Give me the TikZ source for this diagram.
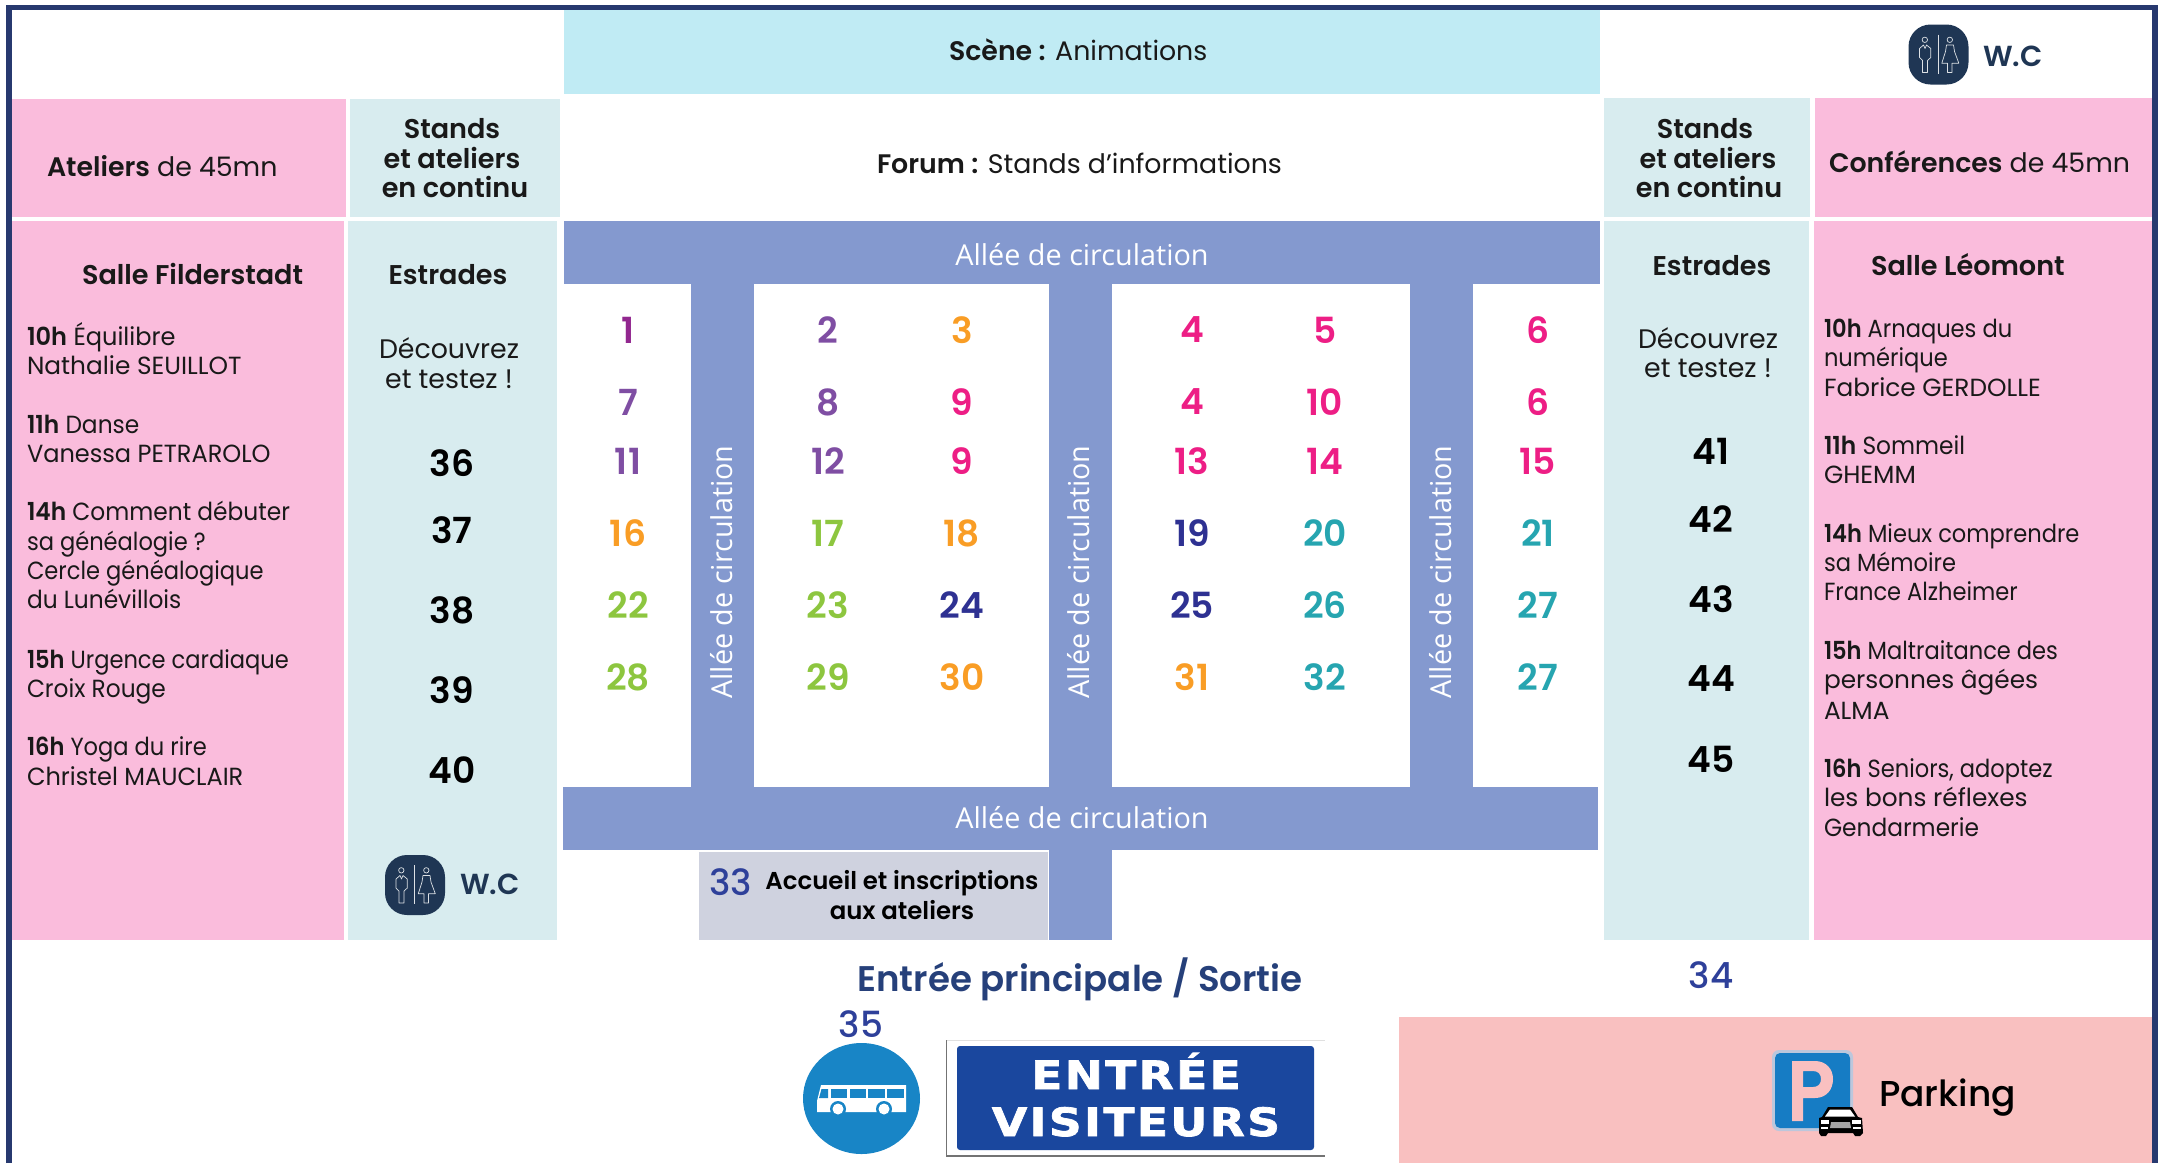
\documentclass[tikz,border=0pt]{standalone}
\usepackage{fontspec}
\setmainfont{Poppins}[BoldFont={Poppins SemiBold}]
\newfontfamily\fA{Poppins}[BoldFont={Poppins SemiBold},FakeStretch=0.97]
\newfontfamily\fB{Poppins}[BoldFont={Poppins SemiBold},FakeStretch=0.94]
\newfontfamily\fC{Poppins}[BoldFont={Poppins SemiBold},FakeStretch=0.91]
\newfontfamily\medfont{Poppins Medium}
\newfontfamily\alleefont{Open Sans}
\newfontfamily\signfont{DejaVu Sans Bold}[LetterSpace=6,FakeStretch=1.17,FakeBold=1.8]
\definecolor{framec}{HTML}{27396F}
\definecolor{pinkc}{HTML}{FABCDC}
\definecolor{tealc}{HTML}{D8ECEF}
\definecolor{bluec}{HTML}{8499CF}
\definecolor{scenec}{HTML}{C0EBF4}
\definecolor{parkc}{HTML}{F9C0C0}
\definecolor{greyc}{HTML}{CFD2DF}
\definecolor{wcc}{HTML}{1F3654}
\definecolor{violetc}{HTML}{92278F}
\definecolor{purplec}{HTML}{7F4EA3}
\definecolor{orangec}{HTML}{F99D25}
\definecolor{magentac}{HTML}{ED1E85}
\definecolor{greenc}{HTML}{8DC63F}
\definecolor{navyc}{HTML}{2E3192}
\definecolor{cyanc}{HTML}{26A5B0}
\definecolor{num33}{HTML}{2E409A}
\definecolor{entreec}{HTML}{26407A}
\definecolor{signc}{HTML}{1A479E}
\definecolor{busc}{HTML}{1885C6}
\definecolor{pblue}{HTML}{167CC4}
\tikzset{
  txt/.style={inner sep=0pt,outer sep=0pt,font=\fontsize{12.4}{14}\selectfont,text=black!90},
  lft/.style={txt,anchor=base west},
  lftA/.style={lft,font=\fontsize{12.4}{14}\fA\selectfont},
  lftB/.style={lft,font=\fontsize{12.4}{14}\fB\selectfont},
  lftC/.style={lft,font=\fontsize{12.4}{14}\fC\selectfont},
  ctr/.style={txt,anchor=base},
  disc/.style={txt,anchor=base,font=\fontsize{13.4}{15}\selectfont},
  head/.style={txt,anchor=base,font=\fontsize{13.55}{15}\selectfont},
  zone/.style={txt,anchor=base west,font=\fontsize{13.4}{15}\selectfont},
  num/.style={inner sep=0pt,outer sep=0pt,anchor=center,font=\fontsize{18}{20}\bfseries\selectfont},
  nummed/.style={num,text=num33,font=\fontsize{18}{20}\medfont\selectfont},
  allee/.style={inner sep=0pt,outer sep=0pt,anchor=base,text=white,font=\fontsize{14.4}{16}\alleefont\selectfont},
  signtxt/.style={inner sep=0pt,outer sep=0pt,anchor=base,text=white,font=\fontsize{19.5}{21}\signfont\selectfont},
}
\newcommand{\wcbox}[2]{%
  \begin{scope}[shift={(#1,#2)}]
    \fill[wcc,rounded corners=11pt] (-30,-30) rectangle (30,30);
    \begin{scope}[draw=white!85!wcc,line width=0.35pt,line join=round]
      \draw (-13.7,-14.7) circle[radius=2.7];
      \draw (11.3,-14.7) circle[radius=2.7];
      \draw (-0.3,-20) -- (-0.3,19);
      \draw (-16,18) -- (-16,6) -- (-19,3) -- (-19,-6) -- (-15,-9.5) -- (-13.5,-6) -- (-12,-9.5) -- (-7.7,-6) -- (-7.7,3) -- (-11,6) -- (-11,18) -- cycle;
      \draw (8,-9.5) -- (15,-9.5) -- (16,-3) -- (20.3,8.7) -- (13.5,8.7) -- (13.5,18) -- (9,18) -- (9,8.7) -- (3.3,8.7) -- (7,-3) -- cycle;
    \end{scope}
  \end{scope}}
\begin{document}
\begin{tikzpicture}[x=0.5pt,y=-0.5pt]
\useasboundingbox (0,0) rectangle (2163,1163);
% zones
\fill[scenec] (564,10) rectangle (1600,94);
\fill[pinkc] (12,99) rectangle (346,217);
\fill[tealc] (350,99) rectangle (560,217);
\fill[pinkc] (12,221) rectangle (344,940);
\fill[tealc] (348,221) rectangle (557,940);
\fill[tealc] (1604,98) rectangle (1810,217);
\fill[pinkc] (1815,98) rectangle (2153,217);
\fill[tealc] (1604,221) rectangle (1809,940);
\fill[pinkc] (1814,221) rectangle (2153,940);
\fill[parkc] (1399,1017) rectangle (2153,1163);
% allees
\fill[bluec] (564,221) rectangle (1600,284);
\fill[bluec] (563,787) rectangle (1598,850);
\fill[bluec] (691,284) rectangle (754,787);
\fill[bluec] (1049,284) rectangle (1112,940);
\fill[bluec] (1410,284) rectangle (1473,787);
\fill[greyc] (699,852) rectangle (1048,940);
% frame
\draw[framec,line width=2.6pt,line join=miter] (9,1163) -- (9,7.5) -- (2155,7.5) -- (2155,1163);
% allee labels
\node[allee] (a1) at (1082,265) {Allée de circulation};
\node[allee] (a2) at (1082,828) {Allée de circulation};
\node[allee,rotate=90] (a3) at (732,572) {Allée de circulation};
\node[allee,rotate=90] (a4) at (1089,572) {Allée de circulation};
\node[allee,rotate=90] (a5) at (1451,572) {Allée de circulation};
% headers
\node[zone] (scene) at (949,60) {\textbf{Scène :} Animations};
\node[zone] (atel) at (47,176) {\textbf{Ateliers} de 45mn};
\node[zone] (forum) at (877,173) {\textbf{Forum :} Stands d’informations};
\node[zone] (conf) at (1829,172) {\textbf{Conférences} de 45mn};
\node[head] (sl1) at (452,138) {\textbf{Stands}};
\node[head] (sl2) at (452,168) {\textbf{et ateliers}};
\node[head] (sl3) at (455,197) {\textbf{en continu}};
\node[head] (sr1) at (1705,138) {\textbf{Stands}};
\node[head] (sr2) at (1708,168) {\textbf{et ateliers}};
\node[head] (sr3) at (1709,197) {\textbf{en continu}};
\node[head,anchor=base west] (sf) at (82,284) {\textbf{Salle Filderstadt}};
\node[head] (el) at (448,284) {\textbf{Estrades}};
\node[head,anchor=base west] (slm) at (1871,275) {\textbf{Salle Léomont}};
\node[head] (er) at (1712,275) {\textbf{Estrades}};
\node[disc] (dl1) at (449,358) {Découvrez};
\node[disc] (dl2) at (449,388) {et testez !};
\node[disc] (dr1) at (1708,348) {Découvrez};
\node[disc] (dr2) at (1708,377) {et testez !};
% left programme
\node[lftA] (l1) at (27,345) {\textbf{10h} Équilibre};
\node[lft] (l2) at (27,374) {Nathalie SEUILLOT};
\node[lftB] (l3) at (27,433) {\textbf{11h} Danse};
\node[lftA] (l4) at (27,462) {Vanessa PETRAROLO};
\node[lftB] (l5) at (27,520) {\textbf{14h} Comment débuter};
\node[lftC] (l6) at (27,550) {sa généalogie ?};
\node[lftC] (l7) at (27,579) {Cercle généalogique};
\node[lftB] (l8) at (27,608) {du Lunévillois};
\node[lftC] (l9) at (27,668) {\textbf{15h} Urgence cardiaque};
\node[lftB] (l10) at (27,697) {Croix Rouge};
\node[lftC] (l11) at (27,755) {\textbf{16h} Yoga du rire};
\node[lftA] (l12) at (27,785) {Christel MAUCLAIR};
% right programme
\node[lftC] (r1) at (1824,337) {\textbf{10h} Arnaques du};
\node[lftC] (r2) at (1824,366) {numérique};
\node[lft] (r3) at (1824,396) {Fabrice GERDOLLE};
\node[lftB] (r4) at (1824,454) {\textbf{11h} Sommeil};
\node[lft] (r5) at (1824,483) {GHEMM};
\node[lftC] (r6) at (1824,542) {\textbf{14h} Mieux comprendre};
\node[lftC] (r7) at (1824,571) {sa Mémoire};
\node[lftC] (r8) at (1824,600) {France Alzheimer};
\node[lftC] (r9) at (1824,659) {\textbf{15h} Maltraitance des};
\node[lft] (r10) at (1824,688) {personnes âgées};
\node[lft] (r11) at (1824,719) {ALMA};
\node[lftC] (r12) at (1824,777) {\textbf{16h} Seniors, adoptez};
\node[lft] (r13) at (1824,806) {les bons réflexes};
\node[lftB] (r14) at (1824,836) {Gendarmerie};
% stand numbers
\node[num,text=violetc] (n1) at (628,330) {1};
\node[num,text=purplec] (n2) at (828,330) {2};
\node[num,text=orangec] (n3) at (962,330) {3};
\node[num,text=magentac] (n4) at (1192,330) {4};
\node[num,text=magentac] (n5) at (1325,330) {5};
\node[num,text=magentac] (n6) at (1538,330) {6};
\node[num,text=purplec] (n7) at (628,402) {7};
\node[num,text=purplec] (n8) at (828,402) {8};
\node[num,text=magentac] (n9) at (962,402) {9};
\node[num,text=magentac] (n4b) at (1192,402) {4};
\node[num,text=magentac] (n10) at (1325,402) {10};
\node[num,text=magentac] (n6b) at (1538,402) {6};
\node[num,text=purplec] (n11) at (628,461) {11};
\node[num,text=purplec] (n12) at (828,461) {12};
\node[num,text=magentac] (n9b) at (962,461) {9};
\node[num,text=magentac] (n13) at (1192,461) {13};
\node[num,text=magentac] (n14) at (1325,461) {14};
\node[num,text=magentac] (n15) at (1538,461) {15};
\node[num,text=orangec] (n16) at (628,533) {16};
\node[num,text=greenc] (n17) at (828,533) {17};
\node[num,text=orangec] (n18) at (962,533) {18};
\node[num,text=navyc] (n19) at (1192,533) {19};
\node[num,text=cyanc] (n20) at (1325,533) {20};
\node[num,text=cyanc] (n21) at (1538,533) {21};
\node[num,text=greenc] (n22) at (628,605) {22};
\node[num,text=greenc] (n23) at (828,605) {23};
\node[num,text=navyc] (n24) at (962,605) {24};
\node[num,text=navyc] (n25) at (1192,605) {25};
\node[num,text=cyanc] (n26) at (1325,605) {26};
\node[num,text=cyanc] (n27) at (1538,605) {27};
\node[num,text=greenc] (n28) at (628,677) {28};
\node[num,text=greenc] (n29) at (828,677) {29};
\node[num,text=orangec] (n30) at (962,677) {30};
\node[num,text=orangec] (n31) at (1192,677) {31};
\node[num,text=cyanc] (n32) at (1325,677) {32};
\node[num,text=cyanc] (n27b) at (1538,677) {27};
% estrades numbers
\node[num,text=black] (n36) at (452,463) {36};
\node[num,text=black] (n37) at (452,530) {37};
\node[num,text=black] (n38) at (452,610) {38};
\node[num,text=black] (n39) at (452,690) {39};
\node[num,text=black] (n40) at (452,770) {40};
\node[num,text=black] (n41) at (1711,451) {41};
\node[num,text=black] (n42) at (1711,519) {42};
\node[num,text=black] (n43) at (1711,599) {43};
\node[num,text=black] (n44) at (1711,679) {44};
\node[num,text=black] (n45) at (1711,759) {45};
% accueil
\node[nummed] (n33) at (730.5,882) {33};
\node[ctr,font=\fontsize{12.2}{14}\bfseries\selectfont,text=black] (acc1) at (902,889) {Accueil et inscriptions};
\node[ctr,font=\fontsize{12.2}{14}\bfseries\selectfont,text=black] (acc2) at (902,919) {aux ateliers};
% entree
\node[ctr,font=\fontsize{17.8}{20}\bfseries\selectfont,text=entreec] (ent) at (1080,991) {Entrée principale / Sortie};
\node[nummed] (n34) at (1711,975) {34};
\node[nummed] (n35) at (861,1024) {35};
% WC icons
\wcbox{1938.5}{54.5}
\node[lft,font=\fontsize{14.5}{16}\bfseries\selectfont,text=wcc] (wc1) at (1983,66) {W.C};
\wcbox{415}{885}
\node[lft,font=\fontsize{14.5}{16}\bfseries\selectfont,text=wcc] (wc2) at (460,894) {W.C};
% bus
\fill[busc] (861.5,1098.5) ellipse[x radius=58.5,y radius=55.5];
\fill[white] (821,1085) -- (906,1085) -- (906,1112) -- (817,1112) -- (817,1101) -- cycle;
\fill[busc] (821.5,1089) -- (828,1089) -- (828,1098) -- (819,1098) -- cycle;
\fill[busc] (831,1089) rectangle (847,1098);
\fill[busc] (850,1089) rectangle (866,1098);
\fill[busc] (868,1089) rectangle (885,1098);
\fill[busc] (887,1089) rectangle (904,1098);
\foreach \wx in {838,884}{
  \fill[busc] (\wx,1109) circle[radius=8];
  \fill[white] (\wx,1109) circle[radius=5.5];
}
% entree visiteurs sign
\fill[white] (946,1040) rectangle (1325,1156);
\draw[black!55,line width=0.6pt] (946.5,1040) -- (946.5,1156) -- (1325,1156);
\draw[black!12,line width=0.4pt] (946.5,1040) -- (1325,1040);
\fill[signc,rounded corners=1.5pt] (957,1046) rectangle (1314,1150);
\node[signtxt] (sg1) at (1136,1089) {ENTRÉE};
\node[signtxt] (sg2) at (1136,1136) {VISITEURS};
% parking sign
\fill[white!60!pblue!70!parkc,rounded corners=3.5pt] (1772,1050) rectangle (1853,1131);
\fill[pblue,rounded corners=2.5pt] (1775,1053) rectangle (1850,1128);
\fill[parkc,even odd rule] (1792,1061) -- (1815,1061) .. controls (1826,1061) and (1833,1069) .. (1833,1079) .. controls (1833,1090) and (1826,1098) .. (1815,1098) -- (1803,1098) -- (1803,1121) -- (1792,1121) -- cycle
  (1803,1071) -- (1803,1087) -- (1813,1087) .. controls (1818,1087) and (1821,1084) .. (1821,1079) .. controls (1821,1074) and (1818,1071) .. (1813,1071) -- cycle;
% car
\fill[black] (1828,1107) -- (1852,1107) -- (1858,1117) -- (1862,1118) -- (1863,1133) -- (1860,1136) -- (1855,1136) -- (1853,1133) -- (1828,1133) -- (1826,1136) -- (1821,1136) -- (1819,1133) -- (1819,1118) -- (1822,1117) -- cycle;
\fill[white] (1830,1109.5) -- (1850,1109.5) -- (1855,1116.5) -- (1825,1116.5) -- cycle;
\fill[white] (1821,1120) rectangle (1829,1124);
\fill[white] (1852,1120) rectangle (1861,1124);
\fill[black!35] (1831,1122) -- (1850,1122) -- (1851,1128) -- (1830,1128) -- cycle;
\fill[white] (1821,1127) rectangle (1828,1129);
\fill[white] (1853,1127) rectangle (1861,1129);
\node[lft,font=\fontsize{18}{18}\medfont\selectfont,text=black] (park) at (1879,1106) {Parking};
\end{tikzpicture}
\end{document}
